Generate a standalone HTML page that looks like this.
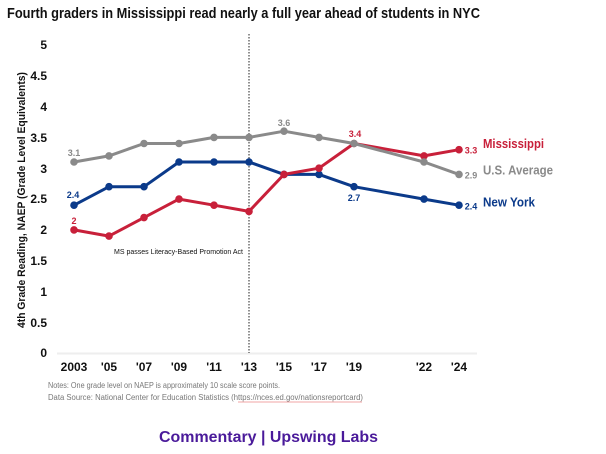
<!DOCTYPE html>
<html><head><meta charset="utf-8"><style>
html,body{margin:0;padding:0;background:#fff;}
svg{display:block;font-family:"Liberation Sans",sans-serif;}
</style></head><body>
<svg width="606" height="454" viewBox="0 0 606 454" xmlns="http://www.w3.org/2000/svg">
<rect width="606" height="454" fill="#fff"/>
<text x="7" y="18" font-size="15" font-weight="bold" fill="#111" textLength="473" lengthAdjust="spacingAndGlyphs">Fourth graders in Mississippi read nearly a full year ahead of students in NYC</text>

<!-- y axis labels -->
<g font-size="12" font-weight="bold" fill="#111" text-anchor="end">
<text x="47" y="49">5</text>
<text x="47" y="80">4.5</text>
<text x="47" y="111">4</text>
<text x="47" y="142">3.5</text>
<text x="47" y="173">3</text>
<text x="47" y="203">2.5</text>
<text x="47" y="234">2</text>
<text x="47" y="265">1.5</text>
<text x="47" y="296">1</text>
<text x="47" y="327">0.5</text>
<text x="47" y="357">0</text>
</g>
<text transform="translate(25,200) rotate(-90)" font-size="11" font-weight="bold" fill="#111" text-anchor="middle" textLength="256" lengthAdjust="spacingAndGlyphs">4th Grade Reading, NAEP (Grade Level Equivalents)</text>

<!-- baseline -->
<line x1="57" y1="353.5" x2="477" y2="353.5" stroke="#eeeeee" stroke-width="2"/>
<!-- vertical dotted -->
<line x1="249" y1="34" x2="249" y2="353" stroke="#222" stroke-width="1" stroke-dasharray="1.5,1.5"/>

<!-- x labels -->
<g font-size="12" font-weight="bold" fill="#111" text-anchor="middle">
<text x="74" y="371">2003</text>
<text x="109" y="371">'05</text>
<text x="144" y="371">'07</text>
<text x="179" y="371">'09</text>
<text x="214" y="371">'11</text>
<text x="249" y="371">'13</text>
<text x="284" y="371">'15</text>
<text x="319" y="371">'17</text>
<text x="354" y="371">'19</text>
<text x="424" y="371">'22</text>
<text x="459" y="371">'24</text>
</g>

<text x="114" y="254" font-size="7" fill="#111" textLength="129" lengthAdjust="spacingAndGlyphs">MS passes Literacy-Based Promotion Act</text>

<!-- New York -->
<g stroke="#0b3a8a" fill="#0b3a8a">
<polyline fill="none" stroke-width="3" stroke-linejoin="round" points="74,205.2 109,186.7 144,186.7 179,162 214,162 249,162 284,174.4 319,174.4 354,186.7 424,199.1 459,205.2"/>
<circle cx="74" cy="205.2" r="3.3"/><circle cx="109" cy="186.7" r="3.3"/><circle cx="144" cy="186.7" r="3.3"/><circle cx="179" cy="162" r="3.3"/><circle cx="214" cy="162" r="3.3"/><circle cx="249" cy="162" r="3.3"/><circle cx="284" cy="174.4" r="3.3"/><circle cx="319" cy="174.4" r="3.3"/><circle cx="354" cy="186.7" r="3.3"/><circle cx="424" cy="199.1" r="3.3"/><circle cx="459" cy="205.2" r="3.3"/>
</g>
<!-- Mississippi -->
<g stroke="#c8203a" fill="#c8203a">
<polyline fill="none" stroke-width="3" stroke-linejoin="round" points="74,229.9 109,236.1 144,217.6 179,199.1 214,205.2 249,211.4 284,174.4 319,168.2 354,143.5 424,155.9 459,149.7"/>
<circle cx="74" cy="229.9" r="3.3"/><circle cx="109" cy="236.1" r="3.3"/><circle cx="144" cy="217.6" r="3.3"/><circle cx="179" cy="199.1" r="3.3"/><circle cx="214" cy="205.2" r="3.3"/><circle cx="249" cy="211.4" r="3.3"/><circle cx="284" cy="174.4" r="3.3"/><circle cx="319" cy="168.2" r="3.3"/><circle cx="354" cy="143.5" r="3.3"/><circle cx="424" cy="155.9" r="3.3"/><circle cx="459" cy="149.7" r="3.3"/>
</g>
<!-- US -->
<g stroke="#8a8a8a" fill="#8a8a8a">
<polyline fill="none" stroke-width="3" stroke-linejoin="round" points="74,162 109,155.9 144,143.5 179,143.5 214,137.4 249,137.4 284,131.2 319,137.4 354,143.5 424,162 459,174.4"/>
<circle cx="74" cy="162" r="3.3"/><circle cx="109" cy="155.9" r="3.3"/><circle cx="144" cy="143.5" r="3.3"/><circle cx="179" cy="143.5" r="3.3"/><circle cx="214" cy="137.4" r="3.3"/><circle cx="249" cy="137.4" r="3.3"/><circle cx="284" cy="131.2" r="3.3"/><circle cx="319" cy="137.4" r="3.3"/><circle cx="354" cy="143.5" r="3.3"/><circle cx="424" cy="162" r="3.3"/><circle cx="459" cy="174.4" r="3.3"/>
</g>

<!-- data labels -->
<g font-size="9" font-weight="bold" text-anchor="middle">
<text x="74" y="156" fill="#8a8a8a">3.1</text>
<text x="73" y="198" fill="#0b3a8a">2.4</text>
<text x="74" y="224" fill="#c8203a">2</text>
<text x="284" y="126" fill="#8a8a8a">3.6</text>
<text x="355" y="137" fill="#c8203a">3.4</text>
<text x="354" y="201" fill="#0b3a8a">2.7</text>
<text x="471" y="153.5" fill="#c8203a">3.3</text>
<text x="471" y="178.5" fill="#8a8a8a">2.9</text>
<text x="471" y="209.5" fill="#0b3a8a">2.4</text>
</g>
<g font-size="12.5" font-weight="bold">
<text x="483" y="148" fill="#c8203a" textLength="61" lengthAdjust="spacingAndGlyphs">Mississippi</text>
<text x="483" y="174.5" fill="#8a8a8a" textLength="70" lengthAdjust="spacingAndGlyphs">U.S. Average</text>
<text x="483" y="206.5" fill="#0b3a8a" textLength="52" lengthAdjust="spacingAndGlyphs">New York</text>
</g>

<!-- notes -->
<text x="48" y="388" font-size="8" fill="#777" textLength="232" lengthAdjust="spacingAndGlyphs">Notes: One grade level on NAEP is approximately 10 scale score points.</text>
<text x="48" y="400" font-size="8" fill="#777" textLength="315" lengthAdjust="spacingAndGlyphs">Data Source: National Center for Education Statistics (https://nces.ed.gov/nationsreportcard)</text>
<line x1="238" y1="402" x2="362" y2="402" stroke="#e88" stroke-width="0.7"/>

<text x="159" y="442" font-size="16" font-weight="bold" fill="#4a1a9a" textLength="219" lengthAdjust="spacingAndGlyphs">Commentary | Upswing Labs</text>
</svg>
</body></html>
